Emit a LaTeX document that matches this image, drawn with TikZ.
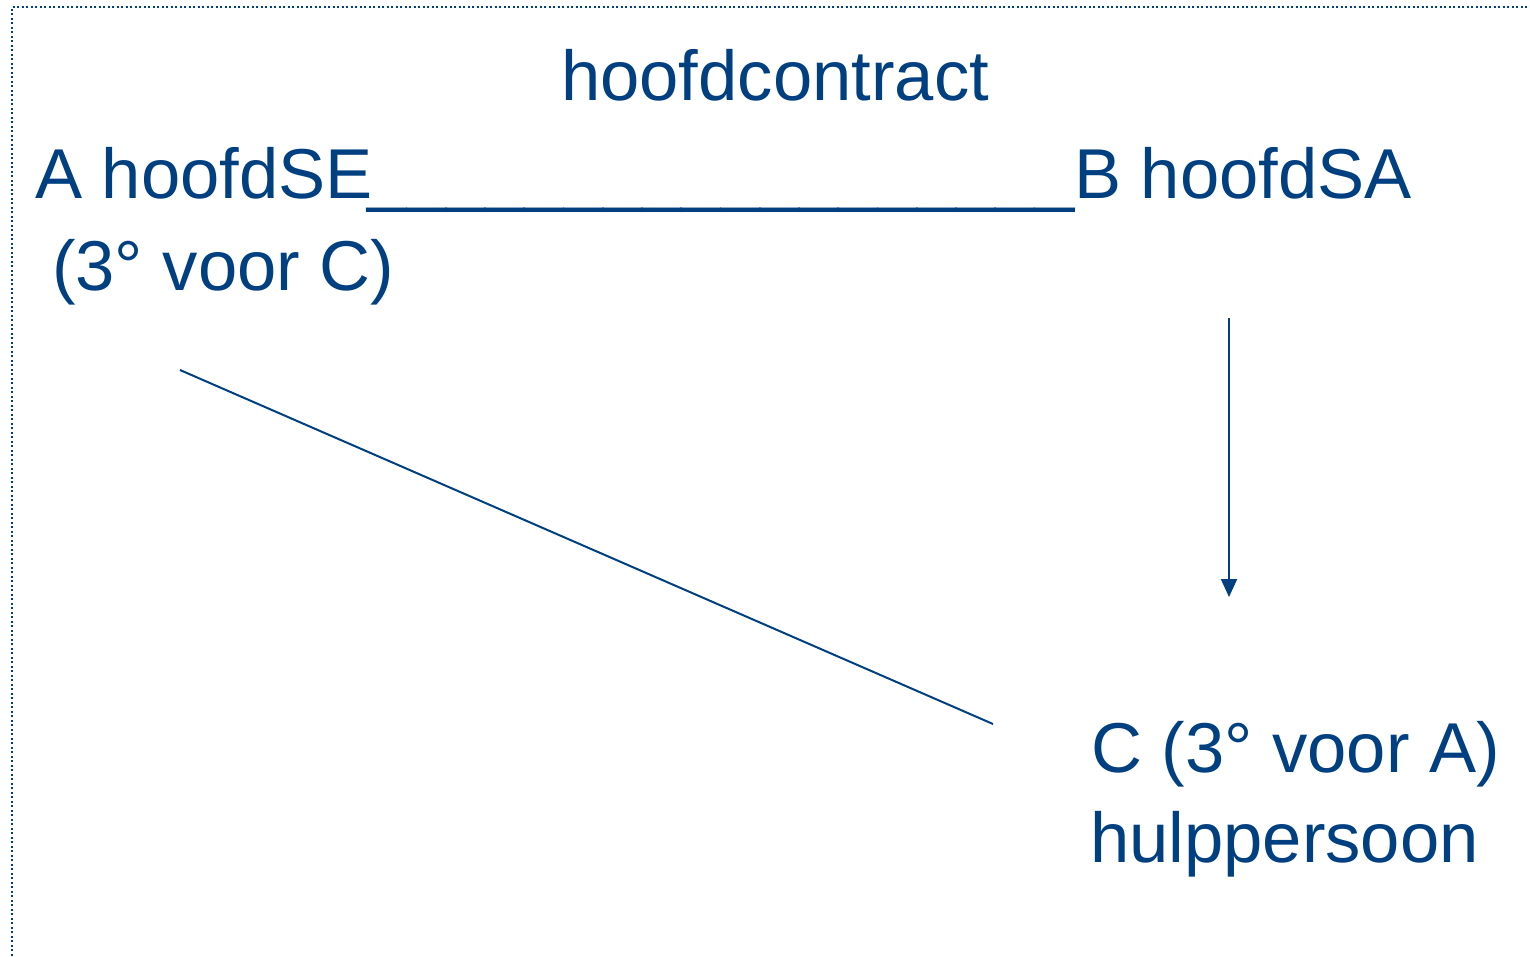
\documentclass[tikz,border=0pt]{standalone}
\usepackage{fontspec}
\setmainfont{Liberation Sans}
\usetikzlibrary{arrows.meta}
\definecolor{navy}{RGB}{0,64,128}
\tikzset{
  lbl/.style={anchor=base west,inner sep=0pt,text=navy,font=\fontsize{70.6}{84}\selectfont},
  conn/.style={draw=navy,line width=2pt},
  frame/.style={draw=navy,line width=2pt,dash pattern=on 2pt off 2.5pt}
}
\begin{document}
\begin{tikzpicture}[x=1pt,y=-1pt]
\useasboundingbox (0,0) rectangle (1530,956);
\draw[frame] (12,960) -- (12,7) -- (1535,7);
\node[lbl] (title) at (561,100) {hoofdcontract};
\node[lbl] (AB) at (35,198) {A hoofdSE\kern-5pt\_\_\_\_\_\_\_\_\_\_\_\_\_\_\_\_\_\_B hoofdSA};
\node[lbl] (A3) at (52,290) {(3°~voor C)};
\node[lbl] (C) at (1091,772) {C (3°~voor A)};
\node[lbl] (hulp) at (1090,862) {hulppersoon};
\coordinate (d1) at (180,370);
\coordinate (d2) at (993,724);
\coordinate (a1) at (1229,318);
\coordinate (a2) at (1229,597);
\draw[conn] (d1) -- (d2);
\draw[conn,-{Triangle[length=18pt,width=16pt]}] (a1) -- (a2);
\end{tikzpicture}
\end{document}
